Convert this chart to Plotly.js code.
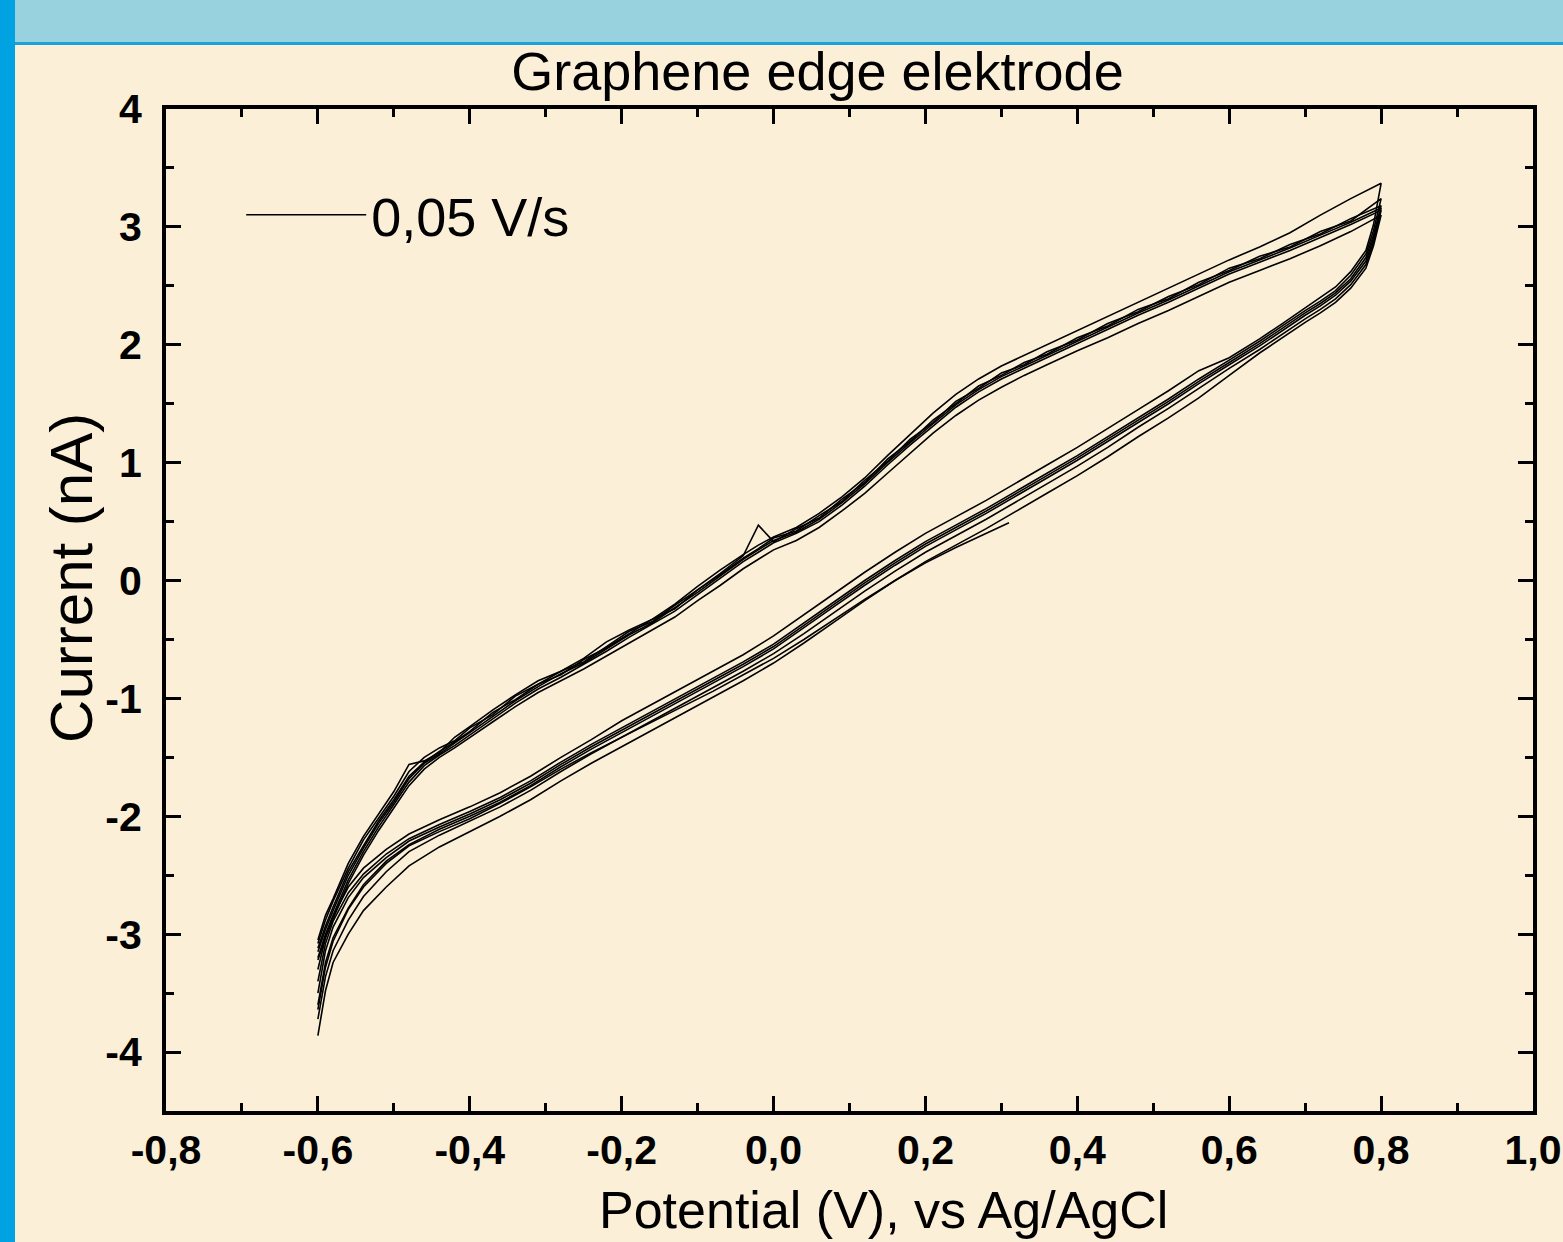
<!DOCTYPE html>
<html>
<head>
<meta charset="utf-8">
<script src="https://cdn.plot.ly/plotly-3.0.1.min.js"></script>
<style>
  html, body { margin: 0; padding: 0; }
  body { width: 1563px; height: 1242px; overflow: hidden; position: relative;
         background: #fbefd7; }
  #topbar { position: absolute; left: 0; top: 0; width: 1563px; height: 42px; background: #97d2de; z-index: 2; }
  #topline { position: absolute; left: 0; top: 42px; width: 1563px; height: 3px; background: #1aa3da; z-index: 2; }
  #leftbar { position: absolute; left: 0; top: 0; width: 15px; height: 1242px; background: #00a2e2; z-index: 3; }
  #chart { position: absolute; left: 0; top: 0; width: 1563px; height: 1242px; z-index: 1; }
</style>
</head>
<body>
<div id="topbar"></div>
<div id="topline"></div>
<div id="leftbar"></div>
<div id="chart"></div>
<script>
// ---- Data ----
const seriesName = '0,05 V/s';
const chartTitle = 'Graphene edge elektrode';
const xTitle = 'Potential (V), vs Ag/AgCl';
const yTitle = 'Current (nA)';

// Potential grid of the anodic sweep (-0.6 V -> 0.8 V)
const potentialAnodic = [-0.60,-0.59,-0.58,-0.56,-0.54,-0.52,-0.50,-0.48,-0.46,-0.44,-0.42,-0.40,
  -0.37,-0.34,-0.31,-0.28,-0.25,-0.22,-0.19,-0.16,-0.13,-0.10,-0.07,-0.04,-0.02,0.00,
  0.03,0.06,0.09,0.12,0.15,0.18,0.21,0.24,0.27,0.30,0.33,0.36,
  0.40,0.44,0.48,0.52,0.56,0.60,0.64,0.68,0.72,0.76,0.80];

// Potential grid of the cathodic sweep (0.8 V -> -0.6 V)
const potentialCathodic = [0.80,0.79,0.78,0.76,0.74,0.72,0.70,0.67,0.64,0.60,
  0.56,0.52,0.48,0.44,0.40,0.36,0.32,0.28,0.24,0.20,
  0.16,0.12,0.08,0.04,0.00,-0.04,-0.08,-0.12,-0.16,-0.20,
  -0.24,-0.28,-0.32,-0.36,-0.40,-0.44,-0.48,-0.51,-0.54,-0.56,
  -0.58,-0.59,-0.60];

// First (partial) sweep, starting at 0.31 V towards -0.6 V
const potentialInitial = [0.31,0.28,0.24,0.20,0.16,0.12,0.08,0.04,0.00,-0.04,-0.08,-0.12,-0.16,-0.20,
  -0.24,-0.28,-0.32,-0.36,-0.40,-0.44,-0.48,-0.51,-0.54,-0.56,-0.58,-0.59,-0.60];
const currentInitial = [0.49,0.40,0.28,0.15,0.00,-0.16,-0.33,-0.50,-0.66,-0.80,-0.94,-1.07,-1.20,-1.33,
  -1.46,-1.60,-1.75,-1.89,-2.02,-2.13,-2.25,-2.40,-2.60,-2.79,-3.06,-3.28,-3.64];

// Current (nA), anodic sweeps of cycles 1..6
const currentAnodic1 = [-3.05,-2.84,-2.70,-2.40,-2.17,-1.98,-1.79,-1.56,-1.53,-1.46,-1.33,-1.24,
  -1.10,-0.97,-0.85,-0.77,-0.66,-0.52,-0.42,-0.33,-0.20,-0.05,0.09,0.22,0.30,0.37,
  0.45,0.57,0.71,0.87,1.06,1.24,1.42,1.58,1.71,1.82,1.91,2.00,
  2.12,2.24,2.36,2.48,2.60,2.72,2.83,2.95,3.10,3.24,3.37];
const currentAnodic2 = [-3.08,-2.88,-2.72,-2.44,-2.20,-2.01,-1.83,-1.62,-1.50,-1.42,-1.36,-1.25,
  -1.14,-0.98,-0.88,-0.77,-0.69,-0.56,-0.43,-0.35,-0.21,-0.08,0.06,0.21,0.47,0.33,
  0.44,0.53,0.69,0.83,1.03,1.18,1.36,1.50,1.65,1.74,1.85,1.92,
  2.06,2.16,2.30,2.39,2.53,2.63,2.75,2.83,2.96,3.05,3.24];
const currentAnodic3 = [-3.12,-2.93,-2.77,-2.47,-2.25,-2.04,-1.86,-1.66,-1.54,-1.45,-1.37,-1.28,
  -1.12,-1.01,-0.88,-0.80,-0.67,-0.57,-0.45,-0.33,-0.24,-0.08,0.05,0.19,0.27,0.36,
  0.42,0.55,0.67,0.85,1.01,1.20,1.34,1.52,1.63,1.76,1.83,1.94,
  2.04,2.18,2.28,2.41,2.51,2.65,2.73,2.85,2.94,3.07,3.18];
const currentAnodic4 = [-3.15,-2.96,-2.80,-2.50,-2.27,-2.06,-1.88,-1.68,-1.55,-1.47,-1.38,-1.29,
  -1.15,-1.02,-0.90,-0.79,-0.70,-0.58,-0.46,-0.36,-0.23,-0.10,0.04,0.18,0.26,0.34,
  0.41,0.52,0.66,0.82,1.00,1.17,1.33,1.49,1.62,1.73,1.82,1.91,
  2.03,2.15,2.27,2.38,2.50,2.62,2.72,2.82,2.93,3.04,3.16];
const currentAnodic5 = [-3.20,-3.00,-2.84,-2.54,-2.30,-2.09,-1.90,-1.71,-1.57,-1.48,-1.40,-1.31,
  -1.17,-1.04,-0.92,-0.82,-0.71,-0.60,-0.48,-0.37,-0.26,-0.12,0.02,0.16,0.24,0.32,
  0.40,0.50,0.64,0.80,0.98,1.15,1.31,1.47,1.60,1.71,1.80,1.89,
  2.01,2.13,2.25,2.36,2.48,2.60,2.70,2.80,2.91,3.02,3.14];
const currentAnodic6 = [-3.22,-3.03,-2.87,-2.57,-2.33,-2.12,-1.93,-1.74,-1.60,-1.50,-1.42,-1.33,
  -1.20,-1.07,-0.95,-0.85,-0.75,-0.64,-0.53,-0.42,-0.31,-0.17,-0.04,0.10,0.18,0.26,
  0.34,0.45,0.59,0.74,0.91,1.08,1.25,1.40,1.53,1.64,1.74,1.83,
  1.95,2.06,2.18,2.29,2.41,2.53,2.63,2.73,2.84,2.96,3.10];

// Current (nA), cathodic sweeps of cycles 1..6
const currentCathodic1 = [3.37,3.02,2.80,2.62,2.49,2.40,2.31,2.18,2.05,1.89,
  1.78,1.61,1.45,1.29,1.13,0.98,0.83,0.68,0.54,0.40,
  0.24,0.07,-0.11,-0.29,-0.47,-0.63,-0.77,-0.91,-1.05,-1.19,
  -1.35,-1.50,-1.66,-1.80,-1.92,-2.03,-2.15,-2.28,-2.44,-2.60,
  -2.85,-3.03,-3.30];
const currentCathodic2 = [3.24,2.97,2.77,2.59,2.46,2.37,2.29,2.16,2.03,1.87,
  1.71,1.54,1.38,1.22,1.06,0.91,0.76,0.61,0.47,0.33,
  0.17,0.00,-0.18,-0.36,-0.54,-0.69,-0.83,-0.97,-1.11,-1.25,
  -1.39,-1.54,-1.70,-1.84,-1.96,-2.07,-2.19,-2.32,-2.49,-2.65,
  -2.89,-3.08,-3.40];
const currentCathodic3 = [3.18,2.93,2.74,2.56,2.44,2.35,2.27,2.14,2.01,1.85,
  1.69,1.52,1.36,1.20,1.04,0.89,0.74,0.59,0.45,0.31,
  0.15,-0.02,-0.20,-0.38,-0.56,-0.71,-0.85,-0.99,-1.13,-1.27,
  -1.41,-1.56,-1.72,-1.86,-1.98,-2.09,-2.21,-2.35,-2.52,-2.69,
  -2.94,-3.14,-3.50];
const currentCathodic4 = [3.16,2.90,2.71,2.54,2.42,2.33,2.25,2.12,1.99,1.83,
  1.67,1.50,1.34,1.18,1.02,0.87,0.72,0.57,0.43,0.29,
  0.13,-0.04,-0.22,-0.40,-0.58,-0.73,-0.87,-1.01,-1.15,-1.29,
  -1.43,-1.58,-1.74,-1.88,-2.00,-2.11,-2.24,-2.38,-2.58,-2.78,
  -3.03,-3.24,-3.60];
const currentCathodic5 = [3.14,2.87,2.68,2.51,2.39,2.30,2.22,2.09,1.96,1.80,
  1.63,1.46,1.30,1.13,0.97,0.82,0.67,0.52,0.38,0.24,
  0.08,-0.09,-0.27,-0.45,-0.62,-0.77,-0.91,-1.05,-1.19,-1.33,
  -1.47,-1.62,-1.78,-1.92,-2.04,-2.16,-2.30,-2.47,-2.68,-2.88,
  -3.14,-3.36,-3.72];
const currentCathodic6 = [3.10,2.84,2.65,2.48,2.36,2.27,2.19,2.06,1.93,1.74,
  1.55,1.38,1.22,1.05,0.89,0.74,0.59,0.44,0.30,0.16,
  0.00,-0.17,-0.35,-0.53,-0.70,-0.85,-0.99,-1.13,-1.27,-1.41,
  -1.55,-1.70,-1.86,-2.00,-2.13,-2.26,-2.42,-2.60,-2.80,-3.00,
  -3.24,-3.48,-3.86];

// Tick values and labels
const xTickValues = [-0.8,-0.6,-0.4,-0.2,0.0,0.2,0.4,0.6,0.8,1.0];
const xTickLabels = ['-0,8','-0,6','-0,4','-0,2','0,0','0,2','0,4','0,6','0,8','1,0'];
const yTickValues = [-4,-3,-2,-1,0,1,2,3,4];
const yTickLabels = ['-4','-3','-2','-1','0','1','2','3','4'];

// ---- Build one continuous trace (sweeps joined at 0.8 V, broken at -0.6 V) ----
const anodicCycles = [currentAnodic1,currentAnodic2,currentAnodic3,currentAnodic4,currentAnodic5,currentAnodic6];
const cathodicCycles = [currentCathodic1,currentCathodic2,currentCathodic3,currentCathodic4,currentCathodic5,currentCathodic6];
let xs = potentialInitial.slice();
let ys = currentInitial.slice();
xs.push(null); ys.push(null);
for (let i = 0; i < anodicCycles.length; i++) {
  xs = xs.concat(potentialAnodic, potentialCathodic, [null]);
  ys = ys.concat(anodicCycles[i], cathodicCycles[i], [null]);
}

const FONT = 'Liberation Sans, Arial, Helvetica, sans-serif';

const trace = {
  type: 'scatter', mode: 'lines', name: seriesName,
  x: xs, y: ys, connectgaps: false,
  line: { color: '#000000', width: 1.6 },
  showlegend: true, hoverinfo: 'skip'
};

const axisCommon = {
  showgrid: false, zeroline: false,
  showline: true, linecolor: '#000', linewidth: 4,
  mirror: 'allticks',
  ticks: 'inside', ticklen: 15, tickwidth: 3, tickcolor: '#000',
  tickmode: 'array',
  tickfont: { family: FONT, size: 41, color: '#000', weight: 'bold' }
};

const layout = {
  width: 1563, height: 1242,
  paper_bgcolor: 'rgba(0,0,0,0)', plot_bgcolor: 'rgba(0,0,0,0)',
  margin: { l: 166, r: 30, t: 109, b: 131, pad: 0 },
  title: {
    text: chartTitle,
    font: { family: FONT, size: 54, color: '#000' },
    x: 0.523, xref: 'container', xanchor: 'center',
    y: 0.943, yref: 'container', yanchor: 'middle'
  },
  xaxis: Object.assign({}, axisCommon, {
    range: [-0.8, 1.0],
    tickvals: xTickValues, ticktext: xTickLabels,
    ticklabelstandoff: 0,
    minor: { ticks: 'inside', ticklen: 8, tickwidth: 3, tickcolor: '#000', tickmode: 'linear', tick0: -0.8, dtick: 0.1, showgrid: false }
  }),
  yaxis: Object.assign({}, axisCommon, {
    range: [-4.5, 4.0],
    tickvals: yTickValues, ticktext: yTickLabels,
    ticklabelstandoff: 12,
    minor: { ticks: 'inside', ticklen: 8, tickwidth: 3, tickcolor: '#000', tickmode: 'linear', tick0: 0, dtick: 0.5, showgrid: false }
  }),
  annotations: [
    { text: xTitle, xref: 'paper', yref: 'paper', x: 0.525, y: -0.0675,
      xanchor: 'center', yanchor: 'top', showarrow: false,
      font: { family: FONT, size: 52, color: '#000' } },
    { text: yTitle, xref: 'paper', yref: 'paper', x: -0.0688, y: 0.532,
      xanchor: 'center', yanchor: 'middle', textangle: -90, showarrow: false,
      font: { family: FONT, size: 60, color: '#000' } }
  ],
  showlegend: true,
  legend: {
    x: 0.055, y: 0.894, xanchor: 'left', yanchor: 'middle',
    bgcolor: 'rgba(0,0,0,0)', borderwidth: 0,
    font: { family: FONT, size: 54, color: '#000' },
    itemwidth: 120
  }
};

Plotly.newPlot('chart', [trace], layout, { staticPlot: true, displayModeBar: false });
</script>
</body>
</html>
